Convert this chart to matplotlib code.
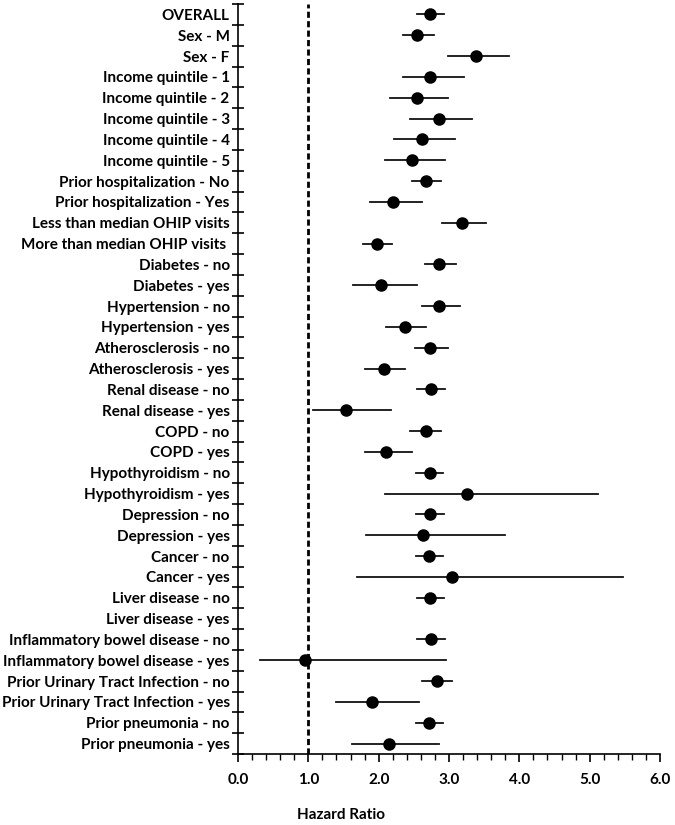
import matplotlib.pyplot as plt
from matplotlib.ticker import MultipleLocator, FixedLocator

labels = ["OVERALL", "Sex - M", "Sex - F",
          "Income quintile - 1", "Income quintile - 2", "Income quintile - 3",
          "Income quintile - 4", "Income quintile - 5",
          "Prior hospitalization - No", "Prior hospitalization - Yes",
          "Less than median OHIP visits", "More than median OHIP visits ",
          "Diabetes - no", "Diabetes - yes",
          "Hypertension - no", "Hypertension - yes",
          "Atherosclerosis - no", "Atherosclerosis - yes",
          "Renal disease - no", "Renal disease - yes",
          "COPD - no", "COPD - yes",
          "Hypothyroidism - no", "Hypothyroidism - yes",
          "Depression - no", "Depression - yes",
          "Cancer - no", "Cancer - yes",
          "Liver disease - no", "Liver disease - yes",
          "Inflammatory bowel disease - no", "Inflammatory bowel disease - yes",
          "Prior Urinary Tract Infection - no", "Prior Urinary Tract Infection - yes",
          "Prior pneumonia - no", "Prior pneumonia - yes"]

# hazard ratio, lower and upper CI (None = not estimated)
hr = [2.73, 2.55, 3.39, 2.73, 2.54, 2.86, 2.61, 2.48, 2.67, 2.20,
      3.19, 1.97, 2.86, 2.04, 2.86, 2.37, 2.73, 2.07, 2.74, 1.53,
      2.67, 2.11, 2.73, 3.26, 2.73, 2.63, 2.72, 3.04, 2.73, None,
      2.74, 0.95, 2.83, 1.91, 2.71, 2.14]
lo = [2.54, 2.34, 2.99, 2.34, 2.16, 2.45, 2.22, 2.09, 2.47, 1.87,
      2.90, 1.78, 2.66, 1.64, 2.62, 2.11, 2.51, 1.80, 2.55, 1.07,
      2.45, 1.80, 2.53, 2.09, 2.53, 1.82, 2.53, 1.69, 2.55, None,
      2.55, 0.31, 2.62, 1.40, 2.53, 1.62]
hi = [2.93, 2.79, 3.86, 3.21, 2.98, 3.33, 3.08, 2.95, 2.89, 2.62,
      3.53, 2.19, 3.10, 2.54, 3.15, 2.67, 2.99, 2.37, 2.95, 2.17,
      2.89, 2.48, 2.92, 5.12, 2.93, 3.79, 2.92, 5.48, 2.93, None,
      2.94, 2.96, 3.04, 2.58, 2.92, 2.86]

plt.rcParams['font.family'] = ['Lato', 'DejaVu Sans']
plt.rcParams['font.weight'] = 'bold'

fig = plt.figure(figsize=(6.75, 8.25), dpi=100)
ax = fig.add_axes([238/675, 1-754/825, 422/675, 750/825])

n = len(labels)
ys = list(range(n))
for y, h, l, u in zip(ys, hr, lo, hi):
    if h is None:
        continue
    ax.plot([l, u], [y, y], color='#111111', lw=1.3, zorder=2)
    ax.plot(h, y, 'o', color='black', markersize=8, zorder=3)

ax.axvline(1.0, color='black', lw=2, ls=(0, (2.2, 1.2)), zorder=1)

ax.set_xlim(0, 6)
ax.set_ylim(n - 0.5, -0.5)

ax.spines['top'].set_visible(False)
ax.spines['right'].set_visible(False)
ax.spines['left'].set_linewidth(1.2)
ax.spines['bottom'].set_linewidth(1.2)

ax.yaxis.set_major_locator(FixedLocator([i - 0.5 for i in range(n + 1)]))
ax.yaxis.set_minor_locator(FixedLocator(ys))
ax.set_yticklabels([], minor=False)
ax.set_yticklabels(labels, minor=True, fontsize=11, fontweight='bold')
ax.tick_params(axis='y', which='major', direction='inout', length=9, width=1.2)
ax.tick_params(axis='y', which='minor', length=0, pad=6)

ax.xaxis.set_major_locator(MultipleLocator(1))
ax.xaxis.set_minor_locator(MultipleLocator(0.2))
ax.set_xticks(range(7))
ax.set_xticklabels([f"{v:.1f}" for v in range(7)], fontsize=11, fontweight='bold')
ax.tick_params(axis='x', which='major', direction='out', length=6, width=1.2, pad=8)
ax.tick_params(axis='x', which='minor', direction='out', length=4, width=1)

fig.text(341/675, 1-815/825, "Hazard Ratio", ha='center', va='center',
         fontsize=11, fontweight='bold')

fig.savefig("out.png", dpi=100)
